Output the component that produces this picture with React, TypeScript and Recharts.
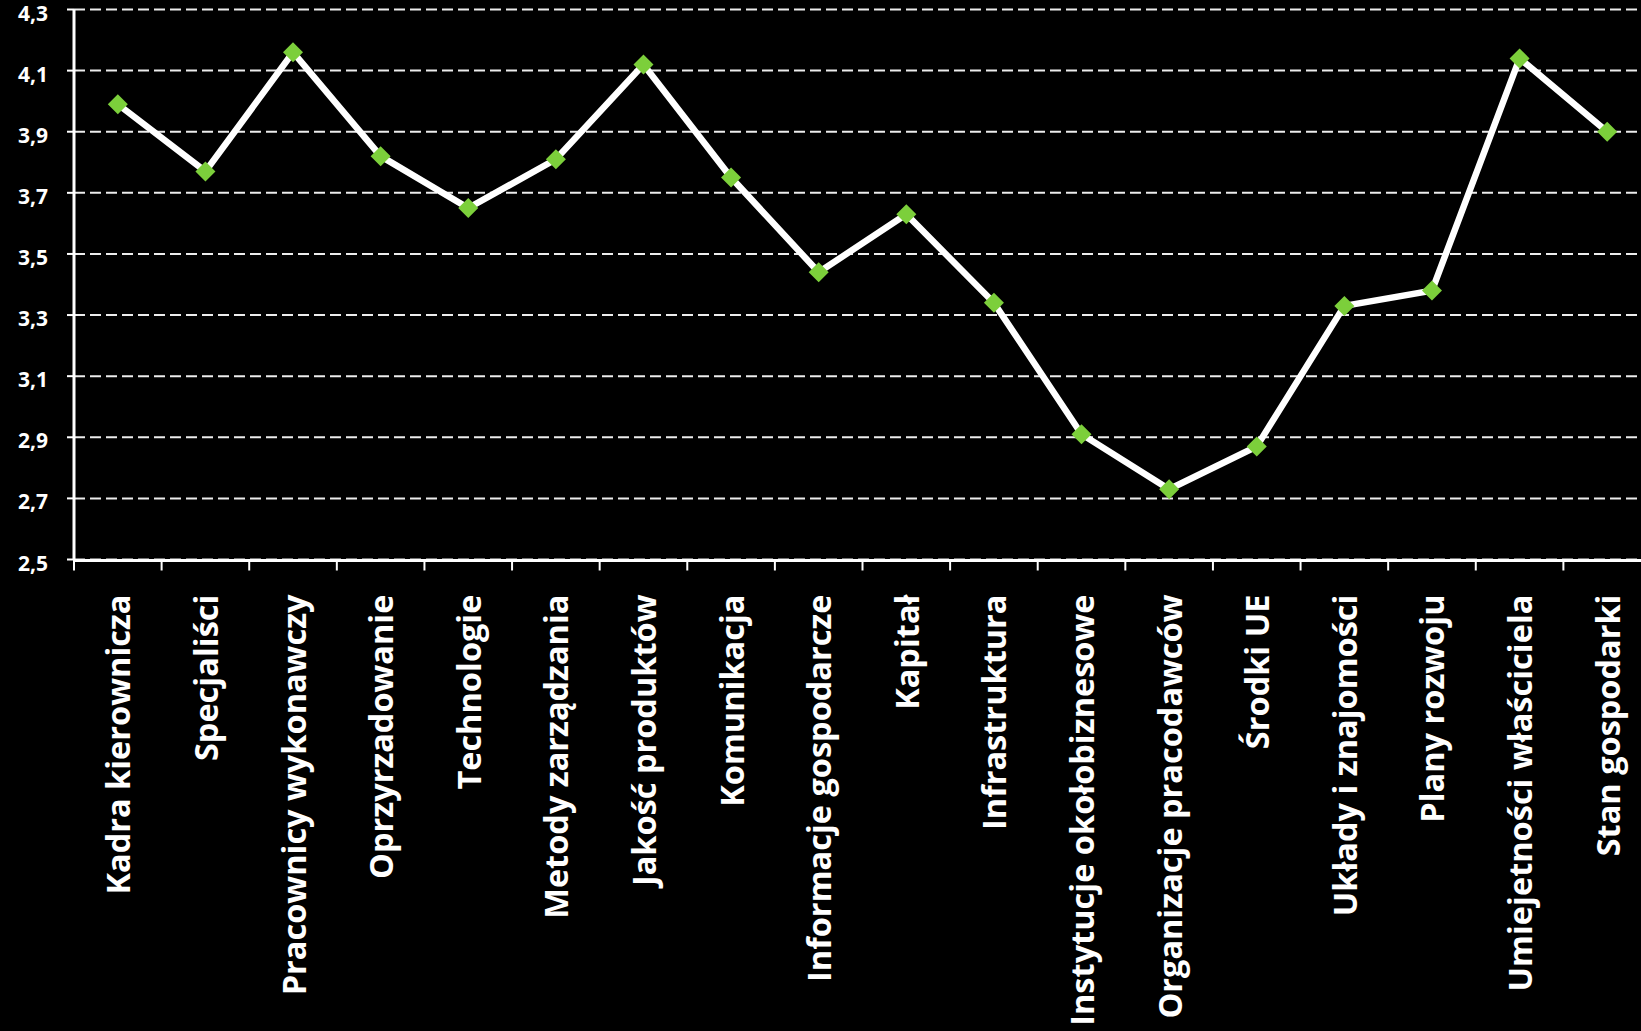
import React from "react";
import { LineChart, Line, XAxis, YAxis, CartesianGrid } from "recharts";

const CATEGORIES = [
  "Kadra kierownicza",
  "Specjaliści",
  "Pracownicy wykonawczy",
  "Oprzyrzadowanie",
  "Technologie",
  "Metody zarządzania",
  "Jakość produktów",
  "Komunikacja",
  "Informacje gospodarcze",
  "Kapitał",
  "Infrastruktura",
  "Instytucje okołobiznesowe",
  "Organizacje pracodawców",
  "Środki UE",
  "Układy i znajomości",
  "Plany rozwoju",
  "Umiejetności właściciela",
  "Stan gospodarki",
];

const SCORES = [
  3.99, 3.77, 4.16, 3.82, 3.65, 3.81, 4.12, 3.75, 3.44, 3.63, 3.34, 2.91, 2.73,
  2.87, 3.33, 3.38, 4.14, 3.9,
];

const Y_TICKS = [2.5, 2.7, 2.9, 3.1, 3.3, 3.5, 3.7, 3.9, 4.1, 4.3];

const data = CATEGORIES.map((name, i) => ({ idx: i, name, score: SCORES[i] }));
const boundaries = CATEGORIES.map((_, i) => i - 0.5).concat(CATEGORIES.length - 0.5);
const centers = CATEGORIES.map((_, i) => i);

const GREEN = "#7ccf3b";
const FONT = "'Open Sans', 'Noto Sans', sans-serif";

function formatScore(v: number) {
  return v.toFixed(1).replace(".", ",");
}

function Diamond(props: any) {
  const { cx, cy } = props;
  if (cx == null || cy == null) return null;
  const r = 10;
  return (
    <path
      d={`M${cx},${cy - r}L${cx + r},${cy}L${cx},${cy + r}L${cx - r},${cy}Z`}
      fill={GREEN}
    />
  );
}

function CategoryTick(props: any) {
  const { x, y, payload } = props;
  return (
    <g transform={`translate(${x},${y})`}>
      <text
        transform="rotate(-90)"
        x={0}
        y={0}
        textAnchor="end"
        dominantBaseline="central"
        fill="#fff"
        fontSize={32.5}
        fontWeight={700}
        fontFamily={FONT}
      >
        {CATEGORIES[payload.value]}
      </text>
    </g>
  );
}

function ValueTick(props: any) {
  const { x, y, payload } = props;
  return (
    <text
      x={x}
      y={y + 3}
      textAnchor="end"
      dominantBaseline="central"
      fill="#fff"
      fontSize={21}
      fontWeight={700}
      fontFamily={FONT}
    >
      {formatScore(payload.value)}
    </text>
  );
}

const EmptyTick = () => <g />;

export default function App() {
  return (
    <div
      style={{
        position: "absolute",
        left: 0,
        top: 0,
        width: 1641,
        height: 1031,
        overflow: "hidden",
        background: "#000",
      }}
    >
      <LineChart
        width={1660}
        height={1031}
        data={data}
        margin={{ top: 9.5, right: 9, left: 0, bottom: 0 }}
      >
        <CartesianGrid
          vertical={false}
          stroke="#ececec"
          strokeWidth={2}
          strokeDasharray="11 5"
        />
        <XAxis
          xAxisId="bounds"
          type="number"
          dataKey="idx"
          domain={[-0.5, CATEGORIES.length - 0.5]}
          allowDataOverflow
          ticks={boundaries}
          interval={0}
          tick={<EmptyTick />}
          tickLine={{ stroke: "#fff", strokeWidth: 2 }}
          tickSize={11}
          axisLine={false}
          height={1}
        />
        <XAxis
          xAxisId="cat"
          type="number"
          dataKey="idx"
          domain={[-0.5, CATEGORIES.length - 0.5]}
          allowDataOverflow
          ticks={centers}
          interval={0}
          tick={<CategoryTick />}
          tickLine={false}
          tickSize={0}
          tickMargin={34}
          axisLine={{ stroke: "#fff", strokeWidth: 3 }}
          height={470.5}
        />
        <YAxis
          domain={[2.5, 4.3]}
          ticks={Y_TICKS}
          interval={0}
          tick={<ValueTick />}
          tickLine={{ stroke: "#fff", strokeWidth: 2 }}
          tickSize={7}
          tickMargin={19}
          axisLine={{ stroke: "#fff", strokeWidth: 3 }}
          width={74}
        />
        <Line
          xAxisId="bounds"
          dataKey="score"
          type="linear"
          stroke="#fff"
          strokeWidth={6.5}
          dot={<Diamond />}
          activeDot={false}
          isAnimationActive={false}
        />
      </LineChart>
    </div>
  );
}
